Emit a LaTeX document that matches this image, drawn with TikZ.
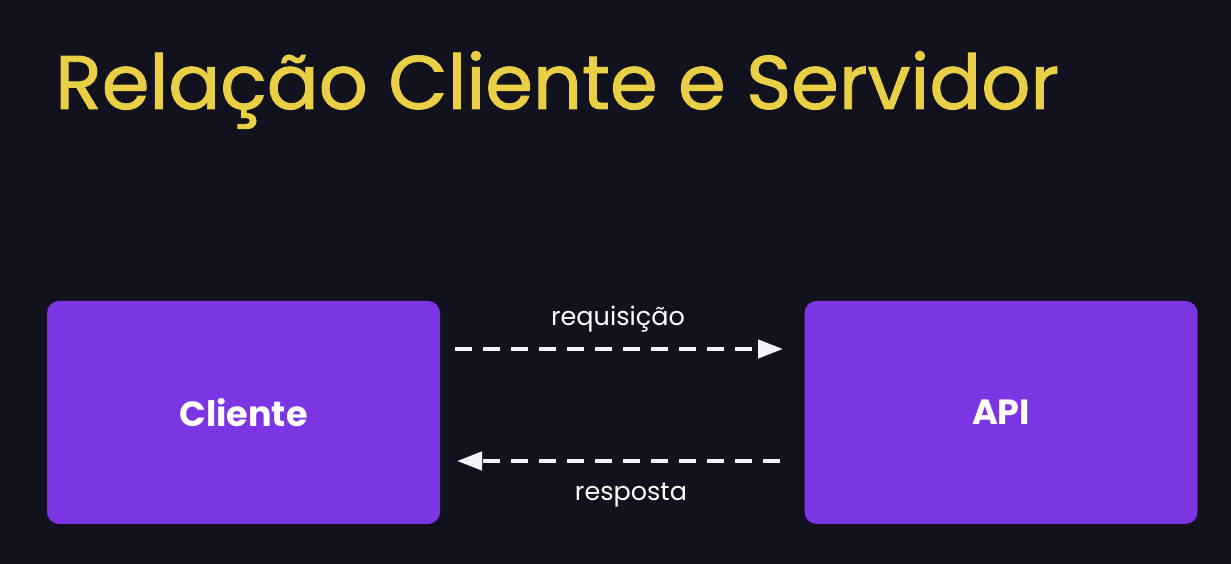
\documentclass[tikz,border=0pt]{standalone}
\usepackage{fontspec}
\setmainfont{Poppins}
\newfontfamily\titlefont{Poppins}[FakeBold=1.2]
\usetikzlibrary{arrows.meta}
\definecolor{bg}{HTML}{11121D}
\definecolor{boxc}{HTML}{7C35E2}
\definecolor{titlec}{HTML}{E8CF45}
\definecolor{linec}{HTML}{F4F4F8}
\tikzset{
  box/.style={fill=boxc, rounded corners=12pt, minimum width=393pt, minimum height=223pt, inner sep=0pt, text=white, font=\fontsize{35}{40}\selectfont\bfseries},
  conn/.style={draw=linec, line width=4.2pt, dash pattern=on 17pt off 11pt, -{Triangle[length=25pt,width=18pt]}},
  lbl/.style={text=white, font=\fontsize{25.5}{28}\selectfont, inner sep=0pt},
}
\begin{document}
\begin{tikzpicture}[x=1pt,y=1pt]
\fill[bg] (0,0) rectangle (1231,564);
\useasboundingbox (0,0) rectangle (1231,564);
\node[anchor=base west, text=titlec, inner sep=0pt, font=\fontsize{76}{86}\selectfont\titlefont] (title) at (55,455) {\scalebox{1.01}[1]{Relação Cliente e Servidor}};
\node[box] (cliente) at (243.5,151.5) {Cliente};
\node[box] (api) at (1001,151.5) {API};
\coordinate (a1) at (455,215);
\coordinate (a2) at (783,215);
\coordinate (b1) at (780,103);
\coordinate (b2) at (457,103);
\draw[conn] (a1) -- (a2);
\draw[conn] (b1) -- (b2);
\node[lbl] (req) at (618,245) {requisição};
\node[lbl] (resp) at (631,69) {resposta};
\end{tikzpicture}
\end{document}
